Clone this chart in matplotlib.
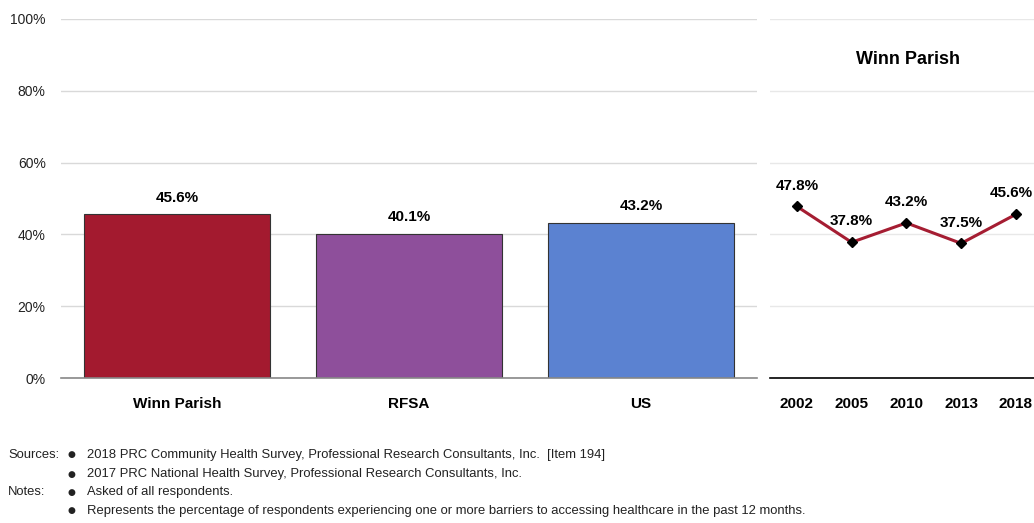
import matplotlib
matplotlib.use("Agg")
import matplotlib.pyplot as plt
from matplotlib import font_manager

names = {f.name for f in font_manager.fontManager.ttflist}
FAM = ['Liberation Sans Narrow', 'Liberation Sans', 'DejaVu Sans'] if 'Liberation Sans Narrow' in names else ['Liberation Sans', 'DejaVu Sans']
plt.rcParams['font.family'] = FAM

# Data
bar_categories = ["Winn Parish", "RFSA", "US"]
bar_values = [45.6, 40.1, 43.2]
bar_colors = ["#A31A2F", "#8E4F9B", "#5B82D1"]

trend_years = ["2002", "2005", "2010", "2013", "2018"]
trend_values = [47.8, 37.8, 43.2, 37.5, 45.6]
trend_title = "Winn Parish"

yticks = [0, 20, 40, 60, 80, 100]
ytick_labels = ["0%", "20%", "40%", "60%", "80%", "100%"]

footer_labels = ["Sources:", "", "Notes:", ""]
footer_lines = [
    "2018 PRC Community Health Survey, Professional Research Consultants, Inc.  [Item 194]",
    "2017 PRC National Health Survey, Professional Research Consultants, Inc.",
    "Asked of all respondents.",
    "Represents the percentage of respondents experiencing one or more barriers to accessing healthcare in the past 12 months.",
]

W, H = 1034, 523
fig = plt.figure(figsize=(W / 100, H / 100), dpi=100)

def ax_rect(x0, y0, x1, y1):
    return [x0 / W, 1 - y1 / H, (x1 - x0) / W, (y1 - y0) / H]

# Left bar chart
ax = fig.add_axes(ax_rect(61, 19, 757, 378))
xs = range(len(bar_categories))
ax.bar(xs, bar_values, width=0.806, color=bar_colors, edgecolor="#333333", linewidth=0.8, zorder=3)
ax.set_xlim(-0.5, 2.5)
ax.set_ylim(0, 100)
ax.set_yticks(yticks)
ax.set_yticklabels(ytick_labels, fontsize=10, color="#222222")
ax.set_xticks(list(xs))
ax.set_xticklabels(bar_categories, fontsize=11, fontweight="bold")
ax.tick_params(axis="both", length=0)
ax.tick_params(axis="x", pad=13.5)
ax.tick_params(axis="y", pad=11)
ax.grid(axis="y", color="#D9D9D9", linewidth=1, zorder=0)
for s in ["top", "right", "left"]:
    ax.spines[s].set_visible(False)
ax.spines["bottom"].set_color("#888888")
ax.spines["bottom"].set_linewidth(1.2)
ax.spines["bottom"].set_zorder(4)
for x, v in zip(xs, bar_values):
    ax.annotate(f"{v:.1f}%", (x, v), xytext=(0, 12), textcoords="offset points",
                ha="center", va="center", fontsize=11, fontweight="bold")

# Right trend chart
ax2 = fig.add_axes(ax_rect(770, 19, 1034, 378))
xt = range(len(trend_years))
ax2.plot(list(xt), trend_values, color="#A51D32", linewidth=2.2, marker="D",
         markersize=5, markerfacecolor="black", markeredgecolor="black", zorder=3)
ax2.set_xlim(-0.49, 4.33)
ax2.set_ylim(0, 100)
ax2.set_yticks(yticks)
ax2.set_yticklabels([])
ax2.set_xticks(list(xt))
ax2.set_xticklabels(trend_years, fontsize=11, fontweight="bold")
ax2.tick_params(axis="both", length=0)
ax2.tick_params(axis="x", pad=13.5)
ax2.grid(axis="y", color="#E8E8E8", linewidth=1, zorder=0)
for s in ["top", "right", "left"]:
    ax2.spines[s].set_visible(False)
ax2.spines["bottom"].set_color("black")
ax2.spines["bottom"].set_linewidth(1.2)
for x, v in zip(xt, trend_values):
    ax2.annotate(f"{v:.1f}%", (x, v), xytext=(-3 if x == 4 else 0, 15), textcoords="offset points",
                 ha="center", va="center", fontsize=11, fontweight="bold")
fig.text(908 / W, 1 - 59 / H, trend_title, ha="center", va="center", fontsize=13, fontweight="bold")

# Footer
fs = 9.4
ys = [455, 474, 492, 511]
for lab, txt, y in zip(footer_labels, footer_lines, ys):
    yy = 1 - y / H
    if lab:
        fig.text(8 / W, yy, lab, ha="left", va="center", fontsize=fs, color="#222222")
    fig.text(71 / W, yy, "\u25CF", ha="center", va="center", fontsize=6.5, color="#222222",
             family=['DejaVu Sans'])
    fig.text(87 / W, yy, txt, ha="left", va="center", fontsize=fs, color="#222222")

fig.savefig("out.png", dpi=100)
